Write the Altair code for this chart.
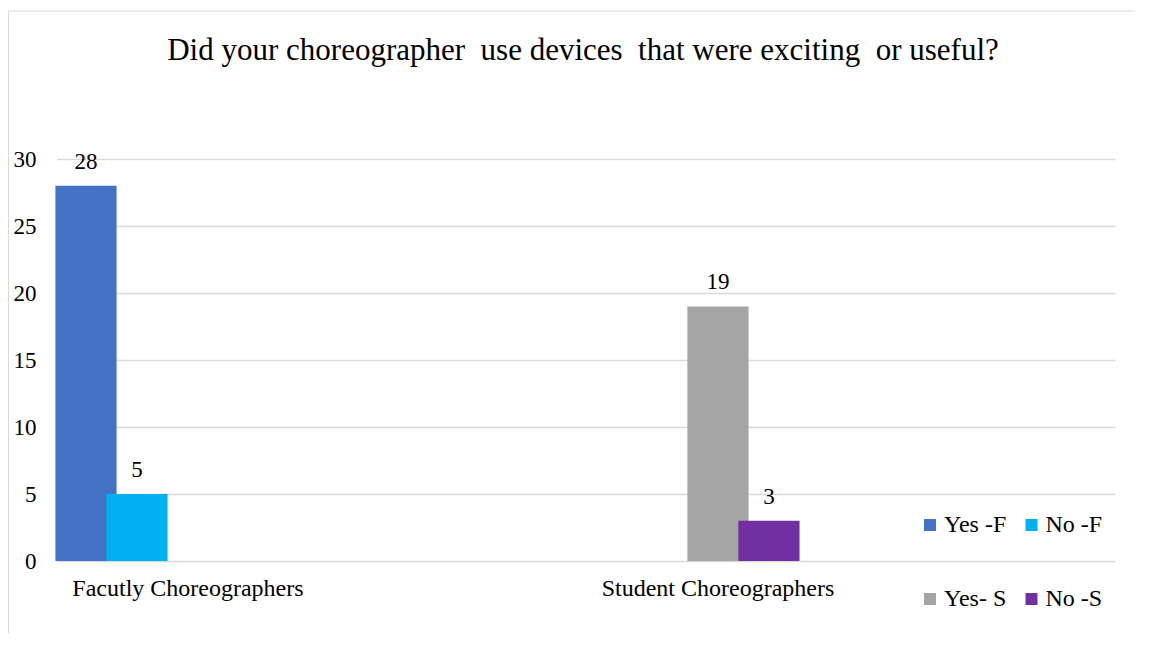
import altair as alt
import pandas as pd

categories = ["Facutly Choreographers", "Student Choreographers"]
series = ["Yes -F", "No -F", "Yes- S", "No -S"]
colors = ["#4472C4", "#00B0F0", "#A5A5A5", "#7030A0"]
row_category = ["Facutly Choreographers", "Facutly Choreographers",
                "Student Choreographers", "Student Choreographers"]
row_series = ["Yes -F", "No -F", "Yes- S", "No -S"]
row_value = [28, 5, 19, 3]
y_ticks = [0, 5, 10, 15, 20, 25, 30]
title_text = "Did your choreographer\u00a0 use devices\u00a0 that were exciting\u00a0 or useful?"

df = pd.DataFrame({"category": row_category, "series": row_series, "value": row_value})

FONT = "Liberation Serif"
W, H = 1058, 402

x_enc = alt.X("category:N", sort=categories,
              scale=alt.Scale(domain=categories, paddingInner=0.519,
                              paddingOuter=0.2576, align=0.0128),
              axis=alt.Axis(title=None, labelFont=FONT, labelFontSize=24,
                            labelColor="#000000", labelAngle=0, labelPadding=15,
                            labelLimit=0, ticks=False, domain=False, grid=False))
xo_enc = alt.XOffset("series:N", sort=series,
                     scale=alt.Scale(domain=series, paddingInner=0,
                                     paddingOuter=0.5, align=0.4))
y_enc = alt.Y("value:Q",
              scale=alt.Scale(domain=[0, 30], nice=False),
              axis=alt.Axis(title=None, values=y_ticks, labelFont=FONT,
                            labelFontSize=23, labelColor="#000000",
                            labelPadding=21, ticks=False, domain=False,
                            grid=True, gridColor="#D9D9D9", gridWidth=1.5))

base = alt.Chart(df)

bars = base.mark_bar(width={"band": 1.2}).encode(
    x=x_enc, xOffset=xo_enc, y=y_enc,
    color=alt.Color("series:N", sort=series,
                    scale=alt.Scale(domain=series, range=colors),
                    legend=alt.Legend(title=None, orient="none", legendX=861,
                                      legendY=354, columns=2,
                                      direction="horizontal",
                                      symbolType="square", symbolSize=144,
                                      symbolStrokeWidth=0,
                                      labelFont=FONT, labelFontSize=24,
                                      labelColor="#000000", labelOffset=2,
                                      labelLimit=0,
                                      columnPadding=12.5, rowPadding=50,
                                      padding=0, offset=0)),
)

labels = base.mark_text(font=FONT, fontSize=23, color="#000000",
                        baseline="middle", dy=-24, dx=-20.4).encode(
    x=x_enc, xOffset=xo_enc, y=y_enc, text=alt.Text("value:Q"))

frame = alt.Chart(pd.DataFrame({"f": [0]})).mark_rect(
    fillOpacity=0, stroke="#D9D9D9", strokeWidth=1).encode(
    x=alt.value(-48.5), x2=alt.value(1300), y=alt.value(-148), y2=alt.value(800))

chart = alt.layer(frame, bars, labels).properties(
    width=W, height=H,
    title=alt.Title(title_text, font=FONT, fontSize=31, fontWeight="normal",
                    color="#000000", anchor="middle", offset=-56, dx=-3),
    autosize=alt.AutoSizeParams(type="none"),
    padding={"left": 49, "top": 151, "right": 20, "bottom": 72},
    background="white",
).configure_view(strokeWidth=0)

chart.save("out.html", embed_options={"renderer": "svg", "actions": False})
